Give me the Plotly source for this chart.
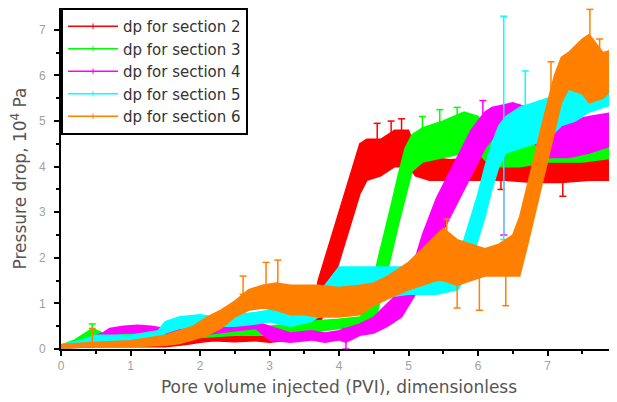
import plotly.graph_objects as go

# ---- data (envelopes of noisy bands) ----
s2_x = [0, 0.2, 0.5, 1.0, 1.5, 1.8, 2.0, 2.2, 2.5, 2.8, 3.0, 3.3, 3.6, 3.7, 3.8, 3.9, 4.0, 4.1, 4.2, 4.3, 4.4, 4.6, 4.8, 5.0, 5.1, 5.3, 5.6, 6.0, 6.4, 6.8, 7.2, 7.6, 8.0]
s2_lo = [0.02, 0.03, 0.05, 0.05, 0.05, 0.1, 0.15, 0.18, 0.16, 0.18, 0.15, 0.2, 0.25, 0.4, 0.9, 1.4, 1.9, 2.4, 2.9, 3.4, 3.7, 3.8, 4.0, 4.0, 3.8, 3.7, 3.7, 3.7, 3.7, 3.65, 3.65, 3.7, 3.7]
s2_hi = [0.08, 0.1, 0.15, 0.15, 0.15, 0.2, 0.3, 0.33, 0.32, 0.3, 0.32, 0.35, 0.45, 1.5, 2.0, 2.5, 3.0, 3.5, 4.0, 4.5, 4.6, 4.6, 4.8, 4.8, 4.4, 4.2, 4.15, 4.2, 4.2, 4.3, 4.3, 4.2, 4.2]

s3_x = [0, 0.2, 0.3, 0.45, 0.6, 1.0, 1.5, 2.0, 2.5, 3.0, 3.5, 4.0, 4.3, 4.45, 4.55, 4.65, 4.75, 4.85, 4.95, 5.05, 5.2, 5.5, 5.8, 6.0, 6.2, 6.6, 7.0, 7.5, 8.0]
s3_lo = [0.02, 0.05, 0.15, 0.25, 0.2, 0.25, 0.25, 0.25, 0.3, 0.3, 0.35, 0.45, 0.45, 0.5, 0.8, 1.4, 2.05, 2.7, 3.3, 3.9, 4.1, 4.2, 4.3, 4.3, 4.0, 4.0, 4.1, 4.1, 4.2]
s3_hi = [0.08, 0.2, 0.3, 0.45, 0.35, 0.4, 0.4, 0.4, 0.45, 0.5, 0.6, 0.65, 0.7, 1.0, 1.9, 2.5, 3.15, 3.8, 4.4, 4.7, 4.85, 5.0, 5.2, 5.1, 4.7, 4.6, 4.7, 4.8, 4.8]

s4_x = [0, 0.3, 0.5, 0.6, 0.7, 0.9, 1.1, 1.3, 1.5, 2.0, 2.5, 2.8, 3.0, 3.3, 3.6, 3.8, 4.0, 4.1, 4.3, 4.5, 4.7, 4.9, 5.1, 5.2, 5.3, 5.4, 5.5, 5.6, 5.7, 5.8, 5.9, 6.0, 6.1, 6.2, 6.5, 6.7, 7.0, 7.3, 7.6, 8.0]
s4_lo = [0.02, 0.05, 0.1, 0.15, 0.3, 0.35, 0.35, 0.35, 0.3, 0.3, 0.4, 0.45, 0.2, 0.15, 0.2, 0.15, 0.2, 0.15, 0.3, 0.35, 0.5, 0.7, 1.2, 1.6, 2.0, 2.3, 2.6, 2.9, 3.2, 3.5, 3.8, 4.1, 4.4, 4.6, 4.8, 4.7, 4.2, 4.2, 4.3, 4.5]
s4_hi = [0.08, 0.15, 0.3, 0.35, 0.45, 0.5, 0.52, 0.5, 0.45, 0.45, 0.55, 0.6, 0.5, 0.35, 0.4, 0.35, 0.4, 0.45, 0.55, 0.7, 1.0, 1.3, 2.0, 2.5, 2.9, 3.3, 3.6, 3.9, 4.2, 4.5, 4.8, 5.0, 5.2, 5.3, 5.4, 5.3, 4.9, 5.0, 5.1, 5.2]

s5_x = [0, 0.3, 0.5, 1.0, 1.4, 1.5, 1.7, 2.0, 2.2, 2.5, 2.8, 3.0, 3.3, 3.6, 4.0, 4.5, 5.0, 5.4, 5.7, 5.8, 5.9, 6.0, 6.1, 6.2, 6.3, 6.4, 6.6, 6.8, 7.0, 7.2, 7.4, 7.6, 7.8, 8.0]
s5_lo = [0.02, 0.05, 0.1, 0.15, 0.2, 0.35, 0.45, 0.5, 0.5, 0.5, 0.55, 0.6, 0.5, 0.6, 1.0, 1.1, 1.2, 1.2, 1.3, 1.5, 1.9, 2.4, 2.9, 3.5, 4.0, 4.3, 4.4, 4.5, 4.6, 4.9, 5.0, 5.2, 5.3, 5.4]
s5_hi = [0.08, 0.2, 0.3, 0.3, 0.4, 0.6, 0.7, 0.75, 0.7, 0.75, 0.8, 0.85, 0.8, 1.0, 1.8, 1.8, 1.8, 1.8, 2.2, 2.4, 2.9, 3.4, 4.0, 4.5, 4.9, 5.1, 5.3, 5.4, 5.5, 5.6, 5.8, 5.9, 5.9, 6.0]

s6_x = [0, 0.5, 1.0, 1.5, 1.7, 1.9, 2.1, 2.3, 2.5, 2.7, 2.9, 3.1, 3.3, 3.5, 3.7, 4.0, 4.3, 4.5, 4.7, 5.0, 5.2, 5.4, 5.5, 5.7, 5.9, 6.1, 6.3, 6.5, 6.6, 6.7, 6.8, 6.9, 7.0, 7.1, 7.2, 7.3, 7.5, 7.6, 7.8, 8.0]
s6_lo = [0.02, 0.05, 0.05, 0.08, 0.12, 0.2, 0.3, 0.45, 0.7, 0.85, 0.9, 0.85, 0.75, 0.75, 0.7, 0.7, 0.75, 0.95, 1.1, 1.3, 1.4, 1.5, 1.5, 1.4, 1.5, 1.6, 1.6, 1.6, 1.6, 2.2, 2.85, 3.5, 4.1, 4.8, 5.4, 5.7, 5.6, 5.4, 5.5, 5.8]
s6_hi = [0.1, 0.15, 0.18, 0.3, 0.4, 0.5, 0.7, 0.85, 1.05, 1.3, 1.4, 1.45, 1.4, 1.4, 1.4, 1.35, 1.4, 1.45, 1.6, 1.9, 2.2, 2.5, 2.65, 2.4, 2.3, 2.2, 2.3, 2.5, 2.9, 3.5, 4.15, 4.8, 5.4, 6.0, 6.4, 6.5, 6.8, 6.9, 6.5, 6.6]

# spikes: x, bottom, top
s2_sx = [4.55, 4.75, 4.9, 5.6, 6.33, 7.22, 7.94]
s2_sy0 = [4.3, 4.4, 4.5, 3.55, 3.5, 3.35, 3.55]
s2_sy1 = [4.95, 5.0, 5.05, 3.9, 3.9, 3.8, 3.9]
s3_sx = [0.45, 5.2, 5.45, 5.7]
s3_sy0 = [0.3, 4.7, 4.8, 4.9]
s3_sy1 = [0.55, 5.1, 5.25, 5.3]
s4_sx = [4.1, 6.37, 6.07, 6.56]
s4_sy0 = [0.0, 2.5, 4.8, 4.9]
s4_sy1 = [0.45, 5.0, 5.45, 5.35]
s5_sx = [6.37, 6.68]
s5_sy0 = [2.4, 4.8]
s5_sy1 = [7.3, 6.1]
s6_sx = [0.45, 2.62, 2.95, 3.12, 5.55, 5.7, 6.02, 6.4, 7.05, 7.61, 7.75, 7.95]
s6_sy0 = [0.1, 1.2, 1.3, 1.3, 2.4, 0.9, 0.85, 0.95, 5.0, 6.5, 6.3, 6.3]
s6_sy1 = [0.45, 1.6, 1.9, 1.95, 2.85, 1.6, 1.6, 1.7, 6.3, 7.45, 6.8, 6.8]

names = ["dp for section 2", "dp for section 3", "dp for section 4", "dp for section 5", "dp for section 6"]
colors = ["#FF0000", "#00FF00", "#FF00FF", "#00FFFF", "#FF8000"]

series = [
    (s2_x, s2_lo, s2_hi, s2_sx, s2_sy0, s2_sy1),
    (s3_x, s3_lo, s3_hi, s3_sx, s3_sy0, s3_sy1),
    (s4_x, s4_lo, s4_hi, s4_sx, s4_sy0, s4_sy1),
    (s5_x, s5_lo, s5_hi, s5_sx, s5_sy0, s5_sy1),
    (s6_x, s6_lo, s6_hi, s6_sx, s6_sy0, s6_sy1),
]

fig = go.Figure()
for (x, lo, hi, sx, sy0, sy1), c, n in zip(series, colors, names):
    fig.add_trace(go.Scatter(x=x, y=lo, mode="lines", line=dict(color=c, width=1.5),
                             showlegend=False, hoverinfo="skip"))
    fig.add_trace(go.Scatter(x=x, y=hi, mode="lines", line=dict(color=c, width=1.5),
                             fill="tonexty", fillcolor=c, showlegend=False, hoverinfo="skip"))
    vx, vy = [], []
    for a, b0, b1 in zip(sx, sy0, sy1):
        vx += [a, a, None]
        vy += [b0, b1, None]
    fig.add_trace(go.Scatter(x=vx, y=vy, mode="lines+markers", line=dict(color=c, width=1.5),
                             marker=dict(symbol="line-ew", size=5, line=dict(color=c, width=1.5)),
                             showlegend=False, hoverinfo="skip"))

for c, n in zip(colors, names):
    fig.add_trace(go.Scatter(x=[None], y=[None], mode="lines+markers", name=n,
                             line=dict(color=c, width=1.5),
                             marker=dict(symbol="line-ns", size=4, line=dict(color=c, width=1))))

# the page body adds an 8px offset, so the figure is sized to fit the 617x402 window
fig.update_layout(
    width=609, height=394,
    margin=dict(l=53, r=0, t=0, b=53, autoexpand=False),
    paper_bgcolor="white", plot_bgcolor="white",
    font=dict(family="Liberation Sans, Arial, sans-serif", color="#555555"),
    showlegend=True,
    legend=dict(x=0.0, y=1, xanchor="left", yanchor="top", traceorder="normal",
                bordercolor="black", borderwidth=2, bgcolor="white",
                font=dict(size=15, family="DejaVu Sans, sans-serif", color="#333333"),
                tracegroupgap=0, itemwidth=50),
    xaxis=dict(range=[0, 8], dtick=1, showgrid=False, zeroline=False, automargin=False,
               showline=True, linecolor="black", linewidth=2, mirror=True,
               ticks="outside", ticklen=5, tickcolor="black", tickwidth=1.5,
               tickfont=dict(size=12, color="#a0a0a0"),
               minor=dict(ticks="outside", ticklen=3, dtick=0.5, tickcolor="black"),
               title=dict(text="Pore volume injected (PVI), dimensionless",
                          font=dict(size=17, family="DejaVu Sans, sans-serif", color="#555555"),
                          standoff=9)),
    yaxis=dict(range=[0, 7.48], dtick=1, showgrid=False, zeroline=False, automargin=False,
               showline=True, linecolor="black", linewidth=2,
               ticks="outside", ticklen=5, tickcolor="black", tickwidth=1.5,
               ticklabelstandoff=6,
               tickfont=dict(size=12, color="#a0a0a0"),
               minor=dict(ticks="outside", ticklen=3, dtick=0.5, tickcolor="black"),
               title=dict(text="Pressure drop, 10<sup>4</sup> Pa",
                          font=dict(size=17, family="DejaVu Sans, sans-serif", color="#555555"),
                          standoff=18)),
)

fig.write_html("out.html")
